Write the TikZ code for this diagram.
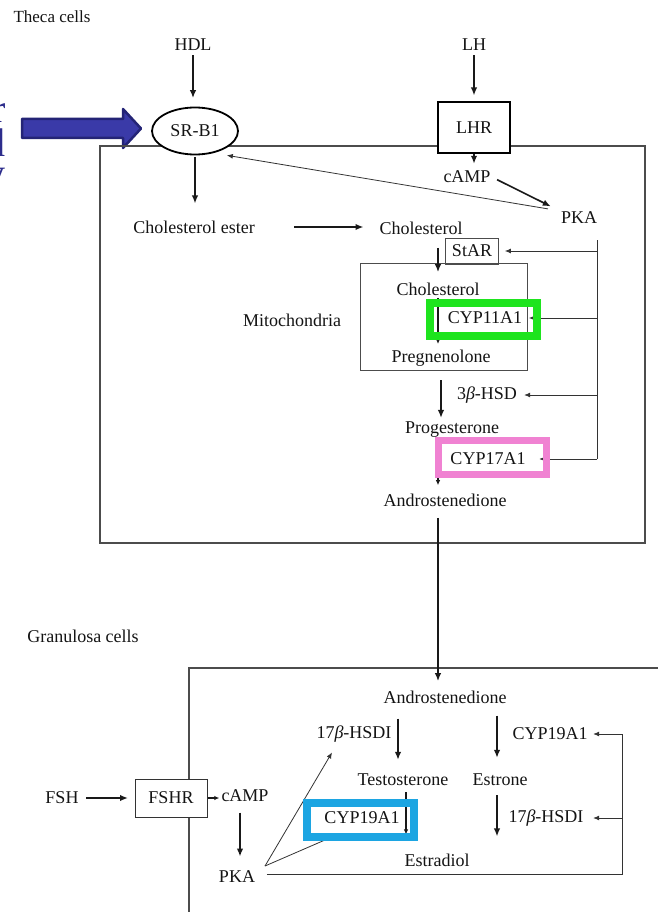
\documentclass[tikz,border=0pt]{standalone}
\usepackage{fontspec}
\setmainfont{Liberation Serif}
\usetikzlibrary{arrows.meta,calc,shapes.geometric}
\definecolor{navyA}{RGB}{36,36,118}
\definecolor{navyB}{RGB}{58,58,168}
\definecolor{navyT}{RGB}{45,45,140}
\definecolor{hlgreen}{RGB}{30,228,30}
\definecolor{hlpink}{RGB}{240,130,210}
\definecolor{hlblue}{RGB}{28,165,226}
\begin{document}
\begin{tikzpicture}[x=1pt,y=-1pt,
  lbl/.style={font=\fontsize{18}{21}\selectfont, text=black!92, inner sep=1pt},
  frag/.style={anchor=base east, inner sep=0, text=navyT, font=\fontsize{40}{40}\selectfont},
  bigarrow/.style={draw=black!90, line width=1.6pt, -{Latex[length=8pt,width=6.5pt]}},
  midarrow/.style={draw=black!90, line width=1.3pt, -{Latex[length=5pt,width=4.5pt]}},
  thinarrow/.style={draw=black!80, line width=0.8pt, -{Latex[length=6pt,width=5pt]}},
  thinline/.style={draw=black!80, line width=0.8pt},
  cellbox/.style={draw=black!70, line width=1.4pt},
  hl/.style={draw=#1, line width=7.5pt, inner sep=0, fill=none},
]
\useasboundingbox (0,0) rectangle (657,912);
\fill[white] (0,0) rectangle (657,912);

% cut-off slide text and pointer arrow
\node[frag] (fragr) at (6,123) {r};
\node[frag] (fragd) at (6,157) {d};
\node[frag] (fragy) at (6,186) {y};
\draw[draw=navyA, fill=navyB, line width=2.5pt, line join=round]
  (22,119) -- (123,119) -- (123,109) -- (141,128.5) -- (123,148) -- (123,138) -- (22,138) -- cycle;

% cell compartments
\draw[cellbox] (100,146) rectangle (645,543);
\draw[cellbox] (189,915) -- (189,668) -- (660,668);
\node[draw=black!70, line width=0.8pt, minimum width=167pt, minimum height=107pt, inner sep=0] (mito) at (443.5,316.5) {};

% ---------- Theca cells ----------
\node[lbl, font=\fontsize{17}{20}\selectfont] (theca) at (52,17) {Theca cells};
\node[lbl] (hdl) at (193,45) {HDL};
\node[lbl, ellipse, draw=black, line width=1.8pt, fill=white, minimum width=86pt, minimum height=47pt, inner sep=0] (srb1) at (195,131) {SR-B1};
\node[lbl] (lh) at (474,45) {LH};
\node[lbl, draw=black, line width=2pt, fill=white, minimum width=72pt, minimum height=51pt] (lhr) at (474,128) {LHR};
\node[lbl] (camp1) at (467,177) {cAMP};
\node[lbl] (pka1) at (579,218) {PKA};
\node[lbl] (chester) at (194,227) {Cholesterol ester};
\node[lbl] (chol1) at (421,228) {Cholesterol};
\node[lbl, draw=black!70, line width=0.8pt, minimum width=53pt, minimum height=26pt, inner sep=0] (star) at (472,251) {StAR};
\node[lbl] (mitolbl) at (292,320) {Mitochondria};
\node[lbl] (chol2) at (438,289) {Cholesterol};
\node[lbl] (cyp11) at (485,318) {CYP11A1};
\node[lbl] (preg) at (441,358) {Pregnenolone};
\node[lbl] (hsd3) at (487,395) {3\textit{β}-HSD};
\node[lbl] (prog) at (452,430) {Progesterone};
\node[lbl] (cyp17) at (488,459) {CYP17A1};
\node[lbl] (andro1) at (445,500) {Androstenedione};

\coordinate (trunkT) at (597,240);
\coordinate (trunkB) at (597,459);

\draw[bigarrow, shorten <=3pt, shorten >=8.5pt] (hdl.south) -- (hdl.south |- srb1.north);
\draw[bigarrow, shorten <=3pt, shorten >=6pt] (lh.south) -- (lhr.north);
\draw[bigarrow, shorten >=6pt] (lhr.south) -- (lhr.south |- camp1.north);
\draw[bigarrow, shorten <=6pt, shorten >=10pt] (camp1.east) -- (pka1.north west);
\draw[thinarrow, shorten <=12pt, shorten >=13.5pt] (pka1.north west) -- (srb1.-50);
\draw[bigarrow, shorten <=1.5pt, shorten >=16pt] (srb1.south) -- (srb1.south |- chester.north);
\draw[bigarrow, shorten <=38.2pt, shorten >=14.8pt] (chester.east) -- (chester.east -| chol1.west);
\draw[bigarrow, shorten <=12.3pt, shorten >=9.3pt] (chol1.south -| chol2.north) -- (chol2.north);
\draw[midarrow, shorten <=1.3pt, shorten >=4.7pt] (chol2.south) -- (chol2.south |- preg.north);
\draw[bigarrow, shorten <=13pt, shorten >=3pt] (preg.south) -- (preg.south |- prog.north);
\draw[midarrow, shorten >=7.3pt] (prog.south -| chol2.south) -- (andro1.north -| chol2.south);

\draw[thinline] (trunkT) -- (trunkB);
\draw[thinarrow, shorten >=6pt] (trunkT |- star) -- (star.east);
\draw[thinarrow, shorten >=5.5pt] (trunkT |- cyp11) -- (cyp11.east);
\draw[thinarrow, shorten >=6pt] (trunkT |- hsd3) -- (hsd3.east);
\draw[thinarrow, shorten >=12.5pt] (trunkB) -- (cyp17.east);

\node[hl=hlgreen, minimum width=107pt, minimum height=33pt] (hlg) at (483.5,319.5) {};
\node[hl=hlpink, minimum width=108pt, minimum height=34pt] (hlp) at (492.5,457.5) {};

% ---------- Granulosa cells ----------
\node[lbl] (gran) at (83,636) {Granulosa cells};
\node[lbl] (andro2) at (445,697) {Androstenedione};
\node[lbl] (hsd17a) at (354,734) {17\textit{β}-HSDI};
\node[lbl] (cyp19b) at (550,734) {CYP19A1};
\node[lbl] (testo) at (403,780) {Testosterone};
\node[lbl] (estrone) at (500,780) {Estrone};
\node[lbl] (hsd17b) at (546,818) {17\textit{β}-HSDI};
\node[lbl] (cyp19a) at (362,818) {CYP19A1};
\node[lbl] (estradiol) at (437,860) {Estradiol};
\node[lbl] (fsh) at (62,798) {FSH};
\node[lbl, draw=black!80, line width=1pt, fill=white, minimum width=72pt, minimum height=38pt] (fshr) at (171,798) {FSHR};
\node[lbl] (camp2) at (245,796) {cAMP};
\node[lbl] (pka2) at (237,877) {PKA};

\draw[bigarrow, shorten <=10.3pt, shorten >=8.3pt] (andro1.south -| chol2.south) -- (andro2.north -| chol2.south);

\coordinate (colT) at (398,718);
\coordinate (colE) at (497,715);
\coordinate (colC) at (406,792);
\coordinate (colK) at (240,812);
\coordinate (loopT) at (622,734);
\coordinate (loopB) at (622,874);
\coordinate (fork) at (265,866);
\coordinate (h17tip) at ($(hsd17a.south)+(-22,9)$);

\draw[bigarrow, shorten <=14pt, shorten >=13pt] (andro2.south -| colT) -- (testo.north -| colT);
\draw[bigarrow, shorten <=11pt, shorten >=15pt] (andro2.south -| colE) -- (estrone.north -| colE);
\draw[bigarrow, shorten <=8pt, shorten >=16pt] (estrone.south -| colE) -- (estradiol.north -| colE);
\draw[midarrow, shorten <=5pt, shorten >=18pt] (testo.south -| colC) -- (estradiol.north -| colC);

\draw[thinline, shorten <=10.7pt] (pka2.east |- loopB) -- (loopB) -- (loopT);
\draw[thinarrow, shorten >=4.5pt] (loopT) -- (cyp19b.east);
\draw[thinarrow, shorten >=8.5pt] (loopT |- hsd17b) -- (hsd17b.east);

\draw[thinarrow] (fork) -- (h17tip);
\draw[thinline] (fork) -- ($(cyp19a.south west)+(8,12)$);

\draw[bigarrow, shorten <=6.5pt, shorten >=6.5pt] (fsh.east) -- (fshr.west);
\draw[midarrow, shorten >=1pt] (fshr.east) -- (fshr.east -| camp2.west);
\draw[bigarrow, shorten <=9.3pt, shorten >=13.3pt] (camp2.south -| colK) -- (pka2.north -| colK);

\node[hl=hlblue, minimum width=107pt, minimum height=34pt] (hlb) at (360.5,820) {};
\end{tikzpicture}
\end{document}
